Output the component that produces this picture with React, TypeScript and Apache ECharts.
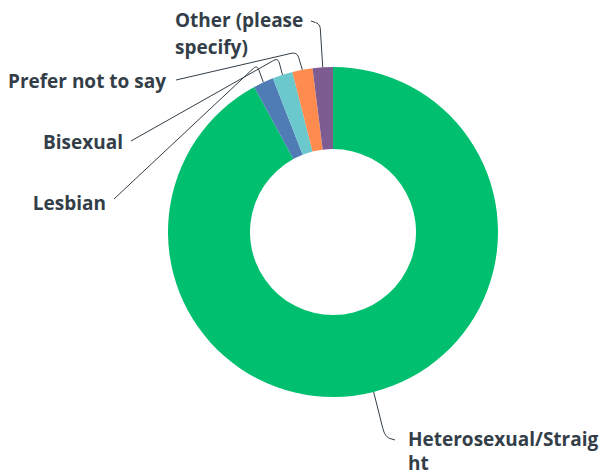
import React, { useEffect, useRef } from 'react';
import * as echarts from 'echarts';

const categories = ['Heterosexual/Straight', 'Lesbian', 'Bisexual', 'Prefer not to say', 'Other (please specify)'];
const values = [93, 2, 2, 2, 2];
const colors = ['#00BF6F', '#507CB6', '#6BC8CD', '#FF8B4F', '#7D5C91'];

const FONT_FAMILY = '"Open Sans", sans-serif';
const FONT_SIZE = 19;
const TEXT_COLOR = '#333E48';
const LINE_COLOR = '#333E48';

type Spec = {
  x: number; y: number; align: string; verticalAlign: string; lineHeight: number;
  elbow: number[]; end: number[]; r: number; wrap?: string; overflow?: string; pad?: number;
};

const labelSpecs: Spec[] = [
  { x: 408, y: 427, align: 'left', verticalAlign: 'top', lineHeight: 24, elbow: [385, 437], end: [395, 440], r: 9, wrap: 'Heterosexual/Straig', overflow: 'breakAll', pad: 2 },
  { x: 106, y: 203, align: 'right', verticalAlign: 'middle', lineHeight: 27, elbow: [257, 65], end: [114, 199], r: 5 },
  { x: 123, y: 142, align: 'right', verticalAlign: 'middle', lineHeight: 27, elbow: [278, 58], end: [131, 141], r: 5 },
  { x: 166, y: 81, align: 'right', verticalAlign: 'middle', lineHeight: 27, elbow: [297, 52], end: [176, 80], r: 6 },
  { x: 175, y: 6, align: 'left', verticalAlign: 'top', lineHeight: 27, elbow: [320, 24], end: [311, 21], r: 5, wrap: 'Other (please', overflow: 'break', pad: 8 },
];

function measure(text: string): number {
  const c = document.createElement('canvas').getContext('2d');
  if (!c) return text.length * 10;
  c.font = `bold ${FONT_SIZE}px ${FONT_FAMILY}`;
  return c.measureText(text).width;
}

function roundedPath(a: number[], e: number[], b: number[], r: number): number[][] {
  const n1 = Math.hypot(a[0] - e[0], a[1] - e[1]) || 1;
  const n2 = Math.hypot(b[0] - e[0], b[1] - e[1]) || 1;
  const r1 = Math.min(r, n1 * 0.5);
  const r2 = Math.min(r, n2 * 0.5);
  const p1 = [e[0] + (a[0] - e[0]) / n1 * r1, e[1] + (a[1] - e[1]) / n1 * r1];
  const p2 = [e[0] + (b[0] - e[0]) / n2 * r2, e[1] + (b[1] - e[1]) / n2 * r2];
  const pts: number[][] = [a];
  const steps = 6;
  for (let i = 0; i <= steps; i++) {
    const t = i / steps;
    const mt = 1 - t;
    pts.push([
      mt * mt * p1[0] + 2 * mt * t * e[0] + t * t * p2[0],
      mt * mt * p1[1] + 2 * mt * t * e[1] + t * t * p2[1],
    ]);
  }
  pts.push(b);
  return pts;
}

export default function App() {
  const ref = useRef<HTMLDivElement>(null);

  useEffect(() => {
    document.body.style.margin = '0';
    if (!ref.current) return;
    const chart = echarts.init(ref.current, undefined, { renderer: 'svg' });

    const data = categories.map((name, i) => {
      const spec = labelSpecs[i];
      const item: any = { name, value: values[i], itemStyle: { color: colors[i] } };
      const label: any = { lineHeight: spec.lineHeight };
      if (spec.wrap) {
        label.width = Math.ceil(measure(spec.wrap) + (spec.pad || 1));
        label.overflow = spec.overflow;
      }
      item.label = label;
      return item;
    });

    const cx = 333;
    const cy = 232;
    const outerR = 165;
    const total = values.reduce((s, v) => s + v, 0);

    chart.setOption({
      animation: false,
      series: [
        {
          type: 'pie',
          center: [cx, cy],
          radius: [83, outerR],
          startAngle: 90,
          clockwise: true,
          avoidLabelOverlap: false,
          minShowLabelAngle: 0,
          silent: true,
          emphasis: { disabled: true },
          label: {
            show: true,
            position: 'outside',
            formatter: '{b}',
            color: TEXT_COLOR,
            fontFamily: FONT_FAMILY,
            fontWeight: 'bold',
            fontSize: FONT_SIZE,
            lineHeight: 27,
          },
          labelLine: {
            show: true,
            length: 10,
            length2: 10,
            lineStyle: { color: LINE_COLOR, width: 1 },
          },
          labelLayout: (params: any) => {
            const spec = labelSpecs[params.dataIndex];
            let anchor: number[];
            if (params.labelLinePoints && params.labelLinePoints[0]) {
              anchor = params.labelLinePoints[0];
            } else {
              let before = 0;
              for (let k = 0; k < params.dataIndex; k++) before += values[k];
              const mid = ((before + values[params.dataIndex] / 2) / total) * Math.PI * 2;
              anchor = [cx + outerR * Math.sin(mid), cy - outerR * Math.cos(mid)];
            }
            return {
              x: spec.x,
              y: spec.y,
              align: spec.align,
              verticalAlign: spec.verticalAlign,
              labelLinePoints: roundedPath(anchor, spec.elbow, spec.end, spec.r),
            };
          },
          data,
        },
      ],
    });

    return () => chart.dispose();
  }, []);

  return <div ref={ref} style={{ width: 600, height: 475 }} />;
}
